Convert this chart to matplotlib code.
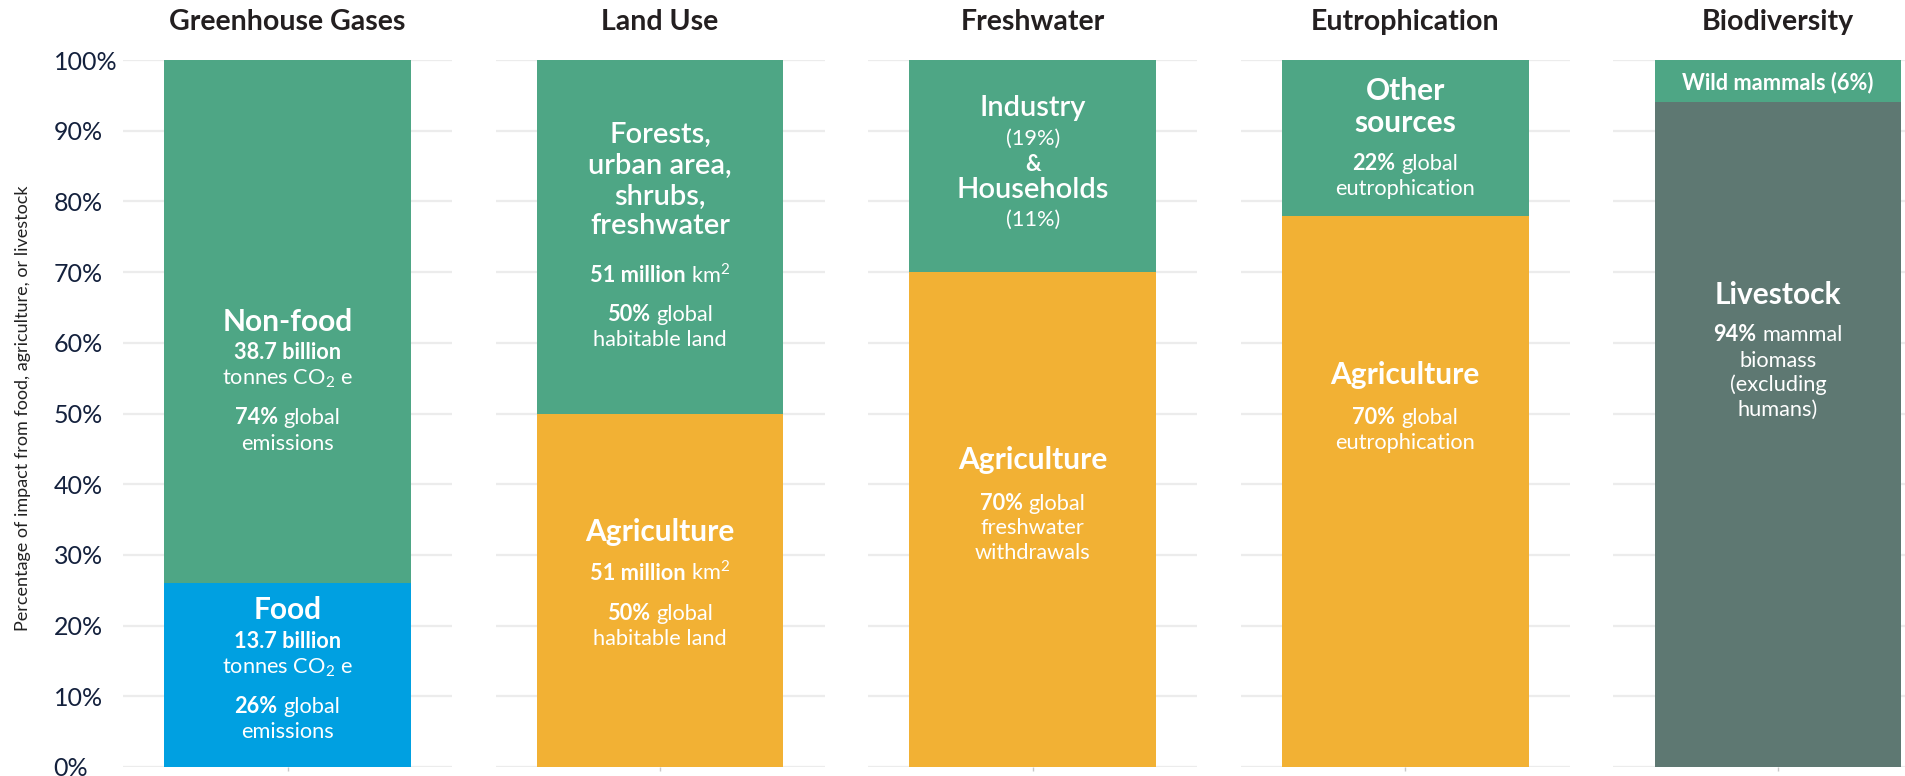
import matplotlib
matplotlib.use("Agg")
import matplotlib.pyplot as plt

plt.rcParams['font.family'] = ['Lato', 'DejaVu Sans']
plt.rcParams['mathtext.fontset'] = 'custom'
plt.rcParams['mathtext.rm'] = 'Lato'
plt.rcParams['mathtext.bf'] = 'Lato:bold'

# data
categories = ["Greenhouse Gases", "Land Use", "Freshwater", "Eutrophication", "Biodiversity"]
bottom_share = [26, 50, 70, 78, 94]   # food / agriculture / livestock
top_share = [74, 50, 30, 22, 6]       # everything else
bottom_names = ["Food", "Agriculture", "Agriculture", "Agriculture", "Livestock"]
top_names = ["Non-food", "Forests, urban area, shrubs, freshwater", "Industry & Households",
             "Other sources", "Wild mammals"]
yticks = [0, 10, 20, 30, 40, 50, 60, 70, 80, 90, 100]

GREEN = "#4ea685"
BLUE = "#00a0e1"
YELLOW = "#f2b134"
SLATE = "#5e7872"
bottom_colors = [BLUE, YELLOW, YELLOW, YELLOW, SLATE]

# text blocks inside the bars: (y, size, [(text, weight), ...])
B, N, M = 'bold', 'normal', 'semibold'
HD, SB, BD = 21.5, 21, 15.7
labels = [
    [(63.2, HD, [("Non-food", B)]),
     (58.8, BD, [("38.7 billion", B)]),
     (55.2, BD, [("tonnes CO$_2$ e", N)]),
     (49.6, BD, [("74%", B), ("global", N)]),
     (46.0, BD, [("emissions", N)]),
     (22.5, HD, [("Food", B)]),
     (18.0, BD, [("13.7 billion", B)]),
     (14.3, BD, [("tonnes CO$_2$ e", N)]),
     (8.8, BD, [("26%", B), ("global", N)]),
     (5.2, BD, [("emissions", N)])],
    [(89.7, SB, [("Forests,", M)]),
     (85.3, SB, [("urban area,", M)]),
     (81.0, SB, [("shrubs,", M)]),
     (76.9, SB, [("freshwater", M)]),
     (69.7, BD, [("51 million", B), ("km$^2$", N)]),
     (64.2, BD, [("50%", B), ("global", N)]),
     (60.7, BD, [("habitable land", N)]),
     (33.5, HD, [("Agriculture", B)]),
     (27.6, BD, [("51 million", B), ("km$^2$", N)]),
     (21.9, BD, [("50%", B), ("global", N)]),
     (18.4, BD, [("habitable land", N)])],
    [(93.5, SB, [("Industry", M)]),
     (89.1, BD, [("(19%)", N)]),
     (85.4, BD, [("&", B)]),
     (81.9, SB, [("Households", M)]),
     (77.7, BD, [("(11%)", N)]),
     (43.7, HD, [("Agriculture", B)]),
     (37.5, BD, [("70%", B), ("global", N)]),
     (34.0, BD, [("freshwater", N)]),
     (30.6, BD, [("withdrawals", N)])],
    [(95.8, HD, [("Other", B)]),
     (91.3, HD, [("sources", B)]),
     (85.6, BD, [("22%", B), ("global", N)]),
     (82.0, BD, [("eutrophication", N)]),
     (55.7, HD, [("Agriculture", B)]),
     (49.6, BD, [("70%", B), ("global", N)]),
     (46.1, BD, [("eutrophication", N)])],
    [(96.9, BD, [("Wild mammals (6%)", B)]),
     (67.0, HD, [("Livestock", B)]),
     (61.4, BD, [("94%", B), ("mammal", N)]),
     (57.7, BD, [("biomass", N)]),
     (54.3, BD, [("(excluding", N)]),
     (50.8, BD, [("humans)", N)])],
]

W, H = 1906, 776
fig = plt.figure(figsize=(W / 100, H / 100), dpi=100)
renderer = fig.canvas.get_renderer()


def put_line(ax, y, size, segs):
    widths = []
    for s, w in segs:
        t = ax.text(0, y, s, fontsize=size, fontweight=w)
        widths.append(t.get_window_extent(renderer).width)
        t.remove()
    gap = 0.27 * size * fig.dpi / 72
    total = sum(widths) + gap * (len(segs) - 1)
    x = -total / 2
    for (s, w), wd in zip(segs, widths):
        ax.annotate(s, xy=(0, y), xytext=(x * 72 / fig.dpi, -0.36 * size),
                    textcoords='offset points', ha='left', va='baseline',
                    fontsize=size, fontweight=w, color='white')
        x += wd + gap


for i, cat in enumerate(categories):
    left = 123 + 372.6 * i
    ax = fig.add_axes([left / W, 9 / H, 329 / W, 707 / H])
    ax.bar(0, bottom_share[i], width=0.75, color=bottom_colors[i], zorder=2)
    ax.bar(0, top_share[i], bottom=bottom_share[i], width=0.75, color=GREEN, zorder=2)
    ax.set_xlim(-0.5, 0.5)
    ax.set_ylim(0, 100)
    ax.set_yticks(yticks)
    ax.yaxis.grid(True, color='#ececec', lw=1.6)
    ax.set_axisbelow(True)
    for sp in ax.spines.values():
        sp.set_visible(False)
    ax.set_xticks([0])
    ax.set_xticklabels([])
    ax.tick_params(axis='x', length=3, color='#c8c8c8', width=1)
    if i == 0:
        ax.set_yticklabels([f"{v}%" for v in yticks])
        ax.tick_params(axis='y', length=0, pad=50, labelsize=18, labelcolor='#14213d')
        for lab in ax.get_yticklabels():
            lab.set_horizontalalignment('left')
    else:
        ax.tick_params(axis='y', length=0, labelleft=False)
    ax.text(0, 105.4, cat, ha='center', va='center', fontsize=20.5, fontweight='bold',
            color='#231f20', clip_on=False)
    for y, size, segs in labels[i]:
        put_line(ax, y, size, segs)

fig.text(23 / W, 1 - 408 / H, "Percentage of impact from food, agriculture, or livestock",
         rotation=90, ha='center', va='center', fontsize=13, color='#222222')

fig.savefig("out.png", dpi=100)
